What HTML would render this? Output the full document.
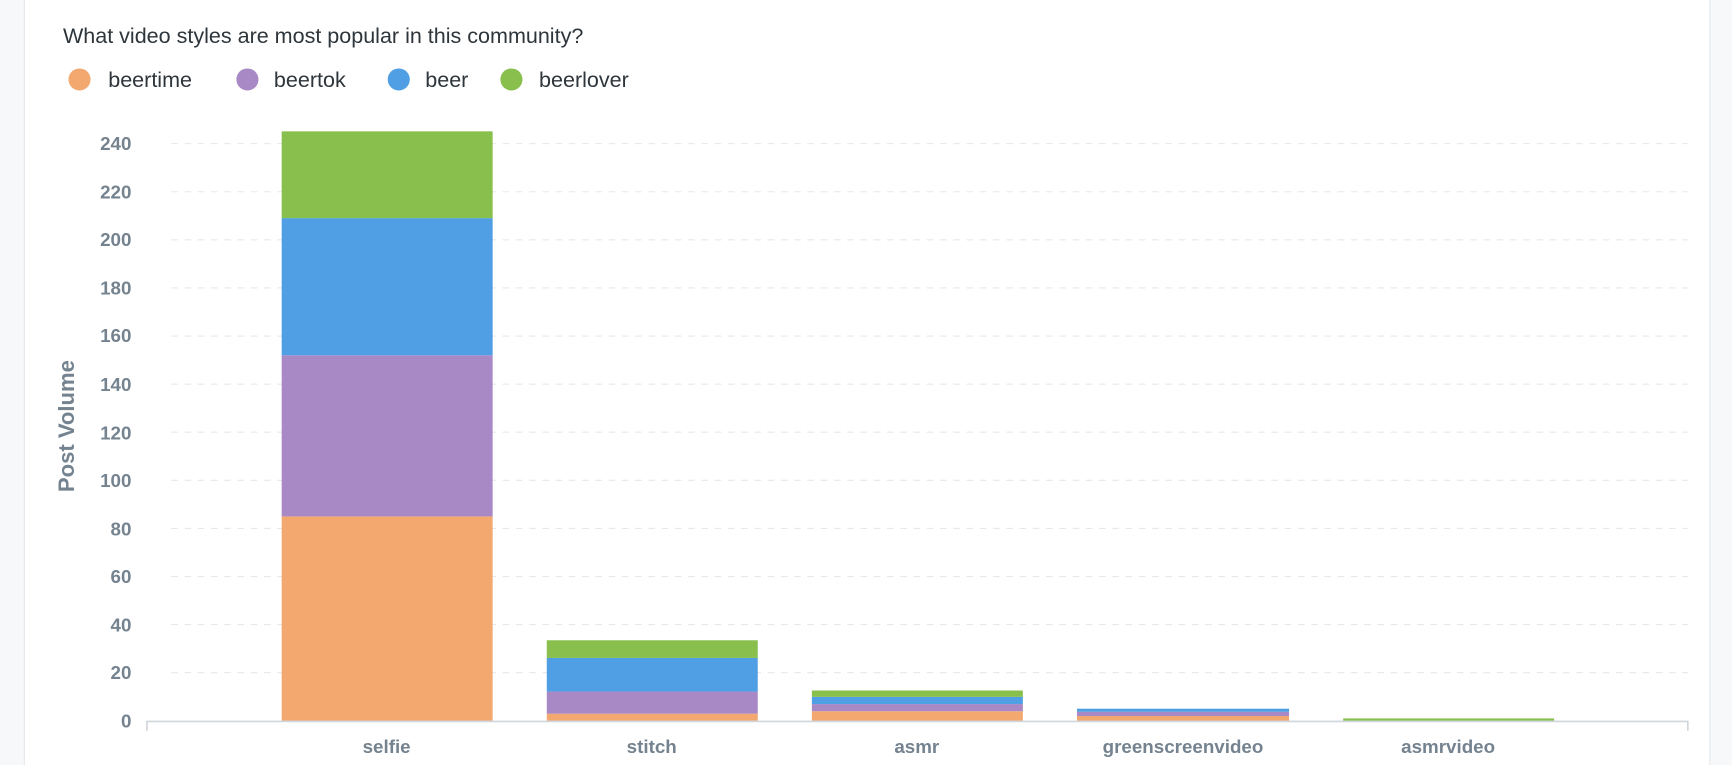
<!DOCTYPE html>
<html><head><meta charset="utf-8"><style>
html,body{margin:0;padding:0;background:#f6f8fa;}
svg{display:block;}
</style></head><body>
<svg width="1732" height="765" viewBox="0 0 1568 693" preserveAspectRatio="none" xmlns="http://www.w3.org/2000/svg" font-family="Liberation Sans, sans-serif">
<rect x="0" y="0" width="1568" height="693" fill="#f6f8fa"/>
<rect x="22" y="-10" width="1526" height="720" rx="12" fill="#ffffff" stroke="#e3e7ec" stroke-width="1"/>
<text x="57" y="39" font-size="19.5" fill="#2e353b">What video styles are most popular in this community?</text>
<g font-size="19.5" fill="#2e353b">
<circle cx="72" cy="72" r="10" fill="#F2A86F"/><text x="98" y="79">beertime</text>
<circle cx="224" cy="72" r="10" fill="#A989C5"/><text x="248" y="79">beertok</text>
<circle cx="361" cy="72" r="10" fill="#509EE3"/><text x="385" y="79">beer</text>
<circle cx="463" cy="72" r="10" fill="#88BF4D"/><text x="488" y="79">beerlover</text>
</g>
<g stroke="#e6e8eb" stroke-width="1" stroke-dasharray="6,6">
<line x1="155" x2="1528" y1="609.4" y2="609.4"/>
<line x1="155" x2="1528" y1="565.8" y2="565.8"/>
<line x1="155" x2="1528" y1="522.3" y2="522.3"/>
<line x1="155" x2="1528" y1="478.7" y2="478.7"/>
<line x1="155" x2="1528" y1="435.1" y2="435.1"/>
<line x1="155" x2="1528" y1="391.5" y2="391.5"/>
<line x1="155" x2="1528" y1="348" y2="348"/>
<line x1="155" x2="1528" y1="304.4" y2="304.4"/>
<line x1="155" x2="1528" y1="260.8" y2="260.8"/>
<line x1="155" x2="1528" y1="217.2" y2="217.2"/>
<line x1="155" x2="1528" y1="173.7" y2="173.7"/>
<line x1="155" x2="1528" y1="130.1" y2="130.1"/>
</g>
<g font-size="17" font-weight="bold" fill="#74838f" text-anchor="end">
<text x="119" y="659">0</text><text x="119" y="615">20</text><text x="119" y="572">40</text>
<text x="119" y="528">60</text><text x="119" y="485">80</text><text x="119" y="441">100</text>
<text x="119" y="398">120</text><text x="119" y="354">140</text><text x="119" y="310">160</text>
<text x="119" y="267">180</text><text x="119" y="223">200</text><text x="119" y="180">220</text>
<text x="119" y="136">240</text>
</g>
<text transform="translate(67,386) rotate(-90)" font-size="20" font-weight="bold" fill="#74838f" text-anchor="middle">Post Volume</text>
<rect x="255" y="467.8" width="191" height="185.2" fill="#F2A86F"/>
<rect x="255" y="321.8" width="191" height="146" fill="#A989C5"/>
<rect x="255" y="197.6" width="191" height="124.2" fill="#509EE3"/>
<rect x="255" y="119" width="191" height="78.6" fill="#88BF4D"/>
<rect x="495" y="646.5" width="191" height="6.5" fill="#F2A86F"/>
<rect x="495" y="626.5" width="191" height="20" fill="#A989C5"/>
<rect x="495" y="596" width="191" height="30.5" fill="#509EE3"/>
<rect x="495" y="580" width="191" height="16" fill="#88BF4D"/>
<rect x="735" y="644.3" width="191" height="8.7" fill="#F2A86F"/>
<rect x="735" y="637.8" width="191" height="6.5" fill="#A989C5"/>
<rect x="735" y="631.3" width="191" height="6.5" fill="#509EE3"/>
<rect x="735" y="625.5" width="191" height="5.8" fill="#88BF4D"/>
<rect x="975" y="648.6" width="192" height="4.4" fill="#F2A86F"/>
<rect x="975" y="644.8" width="192" height="3.8" fill="#A989C5"/>
<rect x="975" y="642" width="192" height="2.8" fill="#509EE3"/>
<rect x="1216" y="650.8" width="191" height="2.2" fill="#88BF4D"/>
<g stroke="#cfd6dc" stroke-width="1.5">
<line x1="133" x2="1528" y1="653.5" y2="653.5"/>
<line x1="133" x2="133" y1="653" y2="662"/>
<line x1="1528" x2="1528" y1="653" y2="662"/>
</g>
<g font-size="17" font-weight="bold" fill="#74838f" text-anchor="middle">
<text x="350" y="682">selfie</text>
<text x="590" y="682">stitch</text>
<text x="830" y="682">asmr</text>
<text x="1071" y="682">greenscreenvideo</text>
<text x="1311" y="682">asmrvideo</text>
</g>
</svg>
</body></html>
